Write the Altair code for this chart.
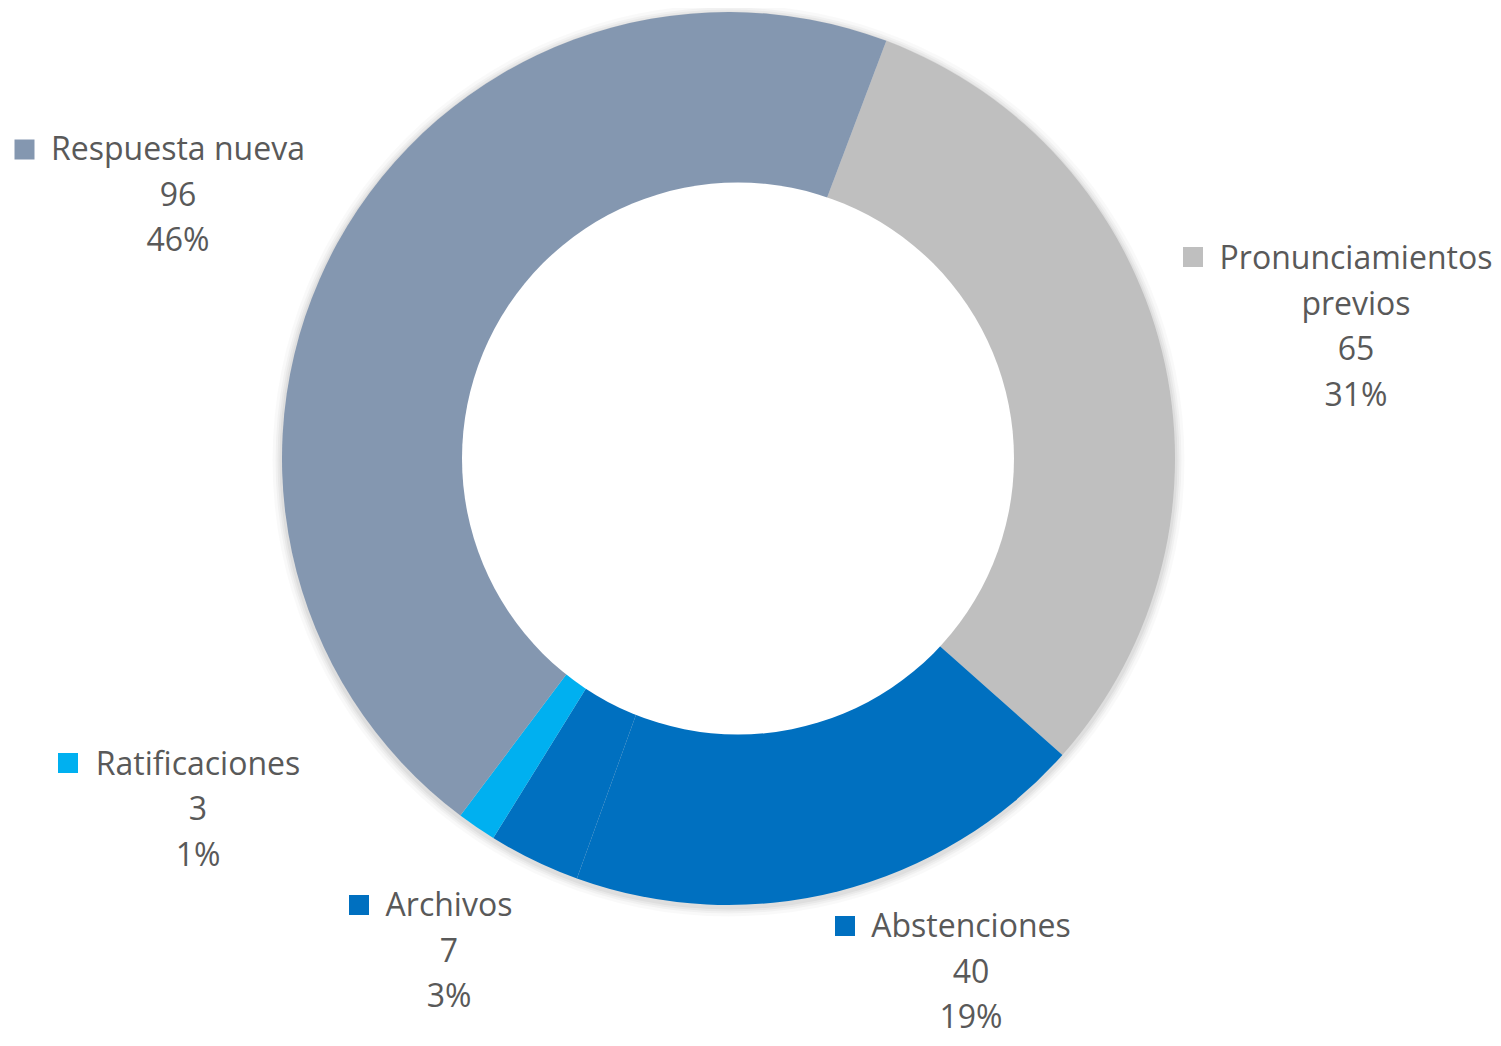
import math
import altair as alt
import pandas as pd

# ---- data ----
categories = ["Pronunciamientos previos", "Abstenciones", "Archivos", "Ratificaciones", "Respuesta nueva"]
values = [65, 40, 7, 3, 96]
percent_labels = ["31%", "19%", "3%", "1%", "46%"]
name_lines = [["Pronunciamientos", "previos"], ["Abstenciones"], ["Archivos"], ["Ratificaciones"], ["Respuesta nueva"]]

# ---- styles / layout ----
colors = ["#BFBFBF", "#0070C0", "#0070C0", "#00B0F0", "#8497B0"]
TEXT_COLOR = "#595959"
FONT = "Open Sans"
FONT_SIZE = 32
LINE_STEP = 45.5
START_ANGLE = math.radians(20.7)
CX_OUTER, CY = 720.5, 450.5
CX_INNER = 730
R_OUTER, R_INNER = 446.5, 276
# label anchors (chart px): centre x, first baseline y, legend square centre
label_cx = [1348, 963, 441, 190, 170]
label_base = [261, 929, 908, 766.5, 152]
square_x = [1185, 837, 351, 60, 16.5]
square_y = [249, 918, 897, 755, 141.5]

df = pd.DataFrame({"cat": categories, "value": values, "order": list(range(len(categories)))})
color_scale = alt.Scale(domain=categories, range=colors)

shadow_rings = [(456, 0.025), (453, 0.03), (451, 0.035), (449, 0.045)]
shadow_layers = [
    alt.Chart(pd.DataFrame({"k": [0]})).mark_arc(
        radius=r, theta=0, theta2=2 * math.pi, color="#000000", opacity=op
    ).encode(x=alt.value(CX_OUTER), y=alt.value(CY + 2))
    for r, op in shadow_rings
]

pie = alt.Chart(df).mark_arc(outerRadius=R_OUTER, innerRadius=0).encode(
    theta=alt.Theta("value:Q", stack=True,
                    scale=alt.Scale(domain=[0, sum(values)], range=[START_ANGLE, START_ANGLE + 2 * math.pi])),
    order=alt.Order("order:Q"),
    color=alt.Color("cat:N", scale=color_scale, legend=None),
    x=alt.value(CX_OUTER),
    y=alt.value(CY),
)

hole = alt.Chart(pd.DataFrame({"k": [0]})).mark_arc(
    radius=R_INNER, theta=0, theta2=2 * math.pi, color="#FFFFFF"
).encode(x=alt.value(CX_INNER), y=alt.value(CY))

rows = []
for i, cat in enumerate(categories):
    lines = name_lines[i] + [str(values[i]), percent_labels[i]]
    for j, t in enumerate(lines):
        rows.append({"cat": cat, "text": t, "x": label_cx[i], "y": label_base[i] + j * LINE_STEP})
text_df = pd.DataFrame(rows)

texts = alt.Chart(text_df).mark_text(
    align="center", baseline="alphabetic", font=FONT, fontSize=FONT_SIZE, color=TEXT_COLOR
).encode(
    x=alt.X("x:Q", scale=None, axis=None),
    y=alt.Y("y:Q", scale=None, axis=None),
    text="text:N",
)

sq_df = pd.DataFrame({"cat": categories, "x": square_x, "y": square_y})
squares = alt.Chart(sq_df).mark_point(shape="square", filled=True, size=400, opacity=1).encode(
    x=alt.X("x:Q", scale=None, axis=None),
    y=alt.Y("y:Q", scale=None, axis=None),
    color=alt.Color("cat:N", scale=color_scale, legend=None),
)

chart = alt.layer(*shadow_layers, pie, hole, squares, texts).properties(
    width=1485, height=1030, padding=0, autosize=alt.AutoSizeParams(type="none"),
    background="#FFFFFF",
).configure_view(stroke=None)

chart.save("out.html", embed_options={"renderer": "svg", "actions": False})
